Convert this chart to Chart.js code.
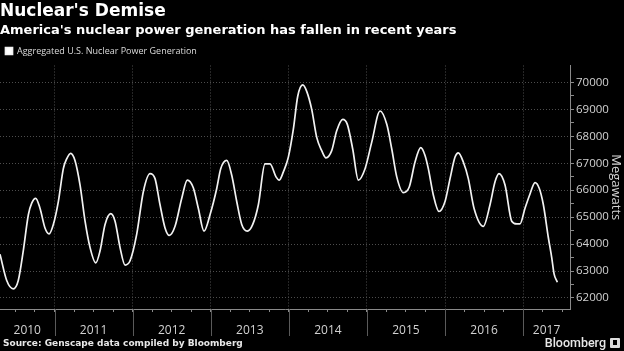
<!DOCTYPE html>
<html>
<head>
<meta charset="utf-8">
<script src="https://cdn.jsdelivr.net/npm/chart.js@4.4.1/dist/chart.umd.min.js"></script>
<style>
html,body{margin:0;padding:0;background:#000;}
#wrap{position:relative;width:624px;height:351px;background:#000;overflow:hidden;}
#c{position:absolute;left:0;top:0;}
#source{position:absolute;left:3px;top:338px;font:bold 9px "DejaVu Sans";line-height:11px;color:#e8e8e8;white-space:nowrap;}
#brand{position:absolute;right:4px;top:335px;font:500 12.5px Roboto;line-height:15px;color:#e8e8e8;white-space:nowrap;}
#brand .icon{display:inline-block;width:10px;height:10px;background:#ddd;border-radius:1px;margin-left:4px;vertical-align:-1px;position:relative;}
#brand .icon:after{content:"";position:absolute;left:3px;top:2px;width:4px;height:5px;background:#000;}
</style>
</head>
<body>
<div id="wrap">
<canvas id="c" width="624" height="351"></canvas>
<div id="source">Source: Genscape data compiled by Bloomberg</div>
<div id="brand">Bloomberg<span class="icon"></span></div>
</div>
<script>
// ---- Data ----
const titleText = "Nuclear's Demise";
const subtitleText = "America's nuclear power generation has fallen in recent years";
const seriesName = "Aggregated U.S. Nuclear Power Generation";
const axisTitle = "Megawatts";
const yearLabels = ["2010","2011","2012","2013","2014","2015","2016","2017"];
const yTickValues = [62000,63000,64000,65000,66000,67000,68000,69000,70000];

// decimal-year positions of the samples
const dates = [
2010.302,2010.388,2010.472,2010.536,2010.600,2010.665,2010.708,2010.759,2010.814,2010.878,
2010.930,2010.985,2011.049,2011.113,2011.156,2011.207,2011.262,2011.327,2011.391,2011.455,
2011.528,2011.583,2011.647,2011.720,2011.775,2011.839,2011.903,2011.967,2012.052,2012.137,
2012.223,2012.287,2012.351,2012.415,2012.470,2012.543,2012.629,2012.700,2012.777,2012.841,
2012.914,2012.991,2013.077,2013.128,2013.205,2013.269,2013.333,2013.397,2013.469,2013.538,
2013.610,2013.695,2013.759,2013.836,2013.878,2013.930,2013.994,2014.058,2014.114,2014.178,
2014.229,2014.293,2014.357,2014.421,2014.476,2014.549,2014.613,2014.690,2014.749,2014.818,
2014.890,2014.976,2015.061,2015.168,2015.254,2015.318,2015.382,2015.466,2015.543,2015.616,
2015.689,2015.744,2015.786,2015.850,2015.923,2016.000,2016.064,2016.128,2016.170,2016.234,
2016.298,2016.371,2016.490,2016.576,2016.640,2016.691,2016.768,2016.854,2016.918,2016.960,
2017.024,2017.088,2017.152,2017.207,2017.259,2017.323,2017.366,2017.396,2017.438
];
// megawatts
const generation = [
63626,62650,62340,62650,63750,65090,65520,65700,65330,64600,
64380,64730,65580,66800,67165,67370,67105,66190,64850,63870,
63300,63750,64730,65130,64850,63870,63220,63380,64360,65945,
66615,66430,65460,64600,64320,64660,65700,66375,66090,65330,
64480,65090,66065,66800,67105,66555,65580,64730,64480,64730,
65460,66980,66980,66495,66375,66680,67230,68265,69490,69910,
69670,69000,67960,67470,67200,67470,68205,68630,68445,67530,
66375,66800,67775,68940,68445,67530,66495,65910,66130,67045,
67580,67290,66800,65825,65210,65580,66430,67230,67385,67045,
66430,65330,64660,65460,66310,66615,66190,64850,64750,64750,
65330,65860,66285,66065,65460,64235,63500,62895,62585
];

// ---- Axis ranges ----
const X_MIN = 2010.302, X_MAX = 2017.6;
const Y_MIN = 61590, Y_MAX = 70630;

const labelPos = yearLabels.map(l => {
  const y = +l;
  return (Math.max(y, X_MIN) + Math.min(y + 1, X_MAX)) / 2;
});
const near = (a, b) => Math.abs(a - b) < 1e-6;
const isYearBoundary = v => near(v, Math.round(v));
const isExtraLabel = v => labelPos.some(p => near(p, v)) && !near(v * 4, Math.round(v * 4));

const GRID = '#4d4d4d';
const AXIS = '#8a8a8a';
const TEXT = '#d2d2d2';

const yearSeparators = {
  id: 'yearSeparators',
  afterDraw(chart) {
    const x = chart.scales.x, ca = chart.chartArea, ctx = chart.ctx;
    ctx.save();
    ctx.strokeStyle = '#5a5a5a';
    ctx.lineWidth = 1;
    for (let yr = Math.ceil(X_MIN); yr <= Math.floor(X_MAX); yr++) {
      const px = Math.round(x.getPixelForValue(yr)) + 0.5;
      ctx.beginPath();
      ctx.moveTo(px, ca.bottom);
      ctx.lineTo(px, ca.bottom + 27);
      ctx.stroke();
    }
    ctx.restore();
  }
};

new Chart(document.getElementById('c'), {
  type: 'line',
  data: {
    datasets: [{
      label: seriesName,
      data: dates.map((d, i) => ({ x: d, y: generation[i] })),
      borderColor: '#f2f2f2',
      backgroundColor: '#ffffff',
      borderWidth: 1.7,
      pointRadius: 0,
      cubicInterpolationMode: 'monotone',
      fill: false
    }]
  },
  options: {
    responsive: false,
    animation: false,
    devicePixelRatio: 1,
    layout: { padding: { left: 0, right: 0, top: 0, bottom: 16 } },
    plugins: {
      title: {
        display: true, text: titleText, align: 'start', color: '#ffffff',
        font: { family: 'DejaVu Sans', size: 17, weight: 'bold' },
        padding: { top: 1, bottom: 1 }
      },
      subtitle: {
        display: true, text: subtitleText, align: 'start', color: '#ffffff',
        font: { family: 'DejaVu Sans', size: 13, weight: 'bold' },
        padding: { top: 0, bottom: 3 }
      },
      legend: {
        display: true, align: 'start',
        labels: {
          boxWidth: 7, boxHeight: 7, padding: 5.5, color: '#dcdcdc',
          font: { family: 'Open Sans', size: 9 }
        }
      },
      tooltip: { enabled: false }
    },
    scales: {
      x: {
        type: 'linear', position: 'bottom', min: X_MIN, max: X_MAX,
        afterBuildTicks: s => {
          const t = [];
          for (let i = Math.ceil(X_MIN * 4); i <= Math.floor(X_MAX * 4); i++) t.push({ value: i / 4 });
          labelPos.forEach(p => { if (!t.some(k => near(k.value, p))) t.push({ value: p }); });
          t.sort((a, b) => a.value - b.value);
          s.ticks = t;
        },
        afterFit: s => { s.height = 26; },
        ticks: {
          autoSkip: false, maxRotation: 0, minRotation: 0, padding: 11, color: TEXT,
          font: { family: 'Open Sans', size: 12 },
          callback: v => { const i = labelPos.findIndex(p => near(p, v)); return i >= 0 ? yearLabels[i] : ''; }
        },
        grid: {
          drawOnChartArea: true, drawTicks: true, tickLength: 3,
          color: c => (c.tick && isYearBoundary(c.tick.value)) ? GRID : 'rgba(0,0,0,0)',
          tickColor: c => (c.tick && isExtraLabel(c.tick.value)) ? 'rgba(0,0,0,0)' : AXIS,
          lineWidth: 1
        },
        border: { display: true, color: AXIS, width: 1, dash: [1, 2] }
      },
      y: {
        type: 'linear', position: 'right', min: Y_MIN, max: Y_MAX,
        afterBuildTicks: s => {
          const t = [];
          for (let i = 0; i < yTickValues.length; i++) {
            t.push({ value: yTickValues[i] });
            if (i < yTickValues.length - 1) t.push({ value: (yTickValues[i] + yTickValues[i + 1]) / 2 });
          }
          s.ticks = t;
        },
        afterFit: s => { s.width = 54; },
        ticks: {
          autoSkip: false, padding: 2, color: TEXT,
          font: { family: 'Open Sans', size: 11.5 },
          callback: v => (yTickValues.includes(v) ? String(v) : '')
        },
        grid: {
          drawOnChartArea: true, drawTicks: true, tickLength: 4,
          color: c => (c.tick && yTickValues.includes(c.tick.value)) ? GRID : 'rgba(0,0,0,0)',
          tickColor: AXIS, lineWidth: 1
        },
        border: { display: true, color: AXIS, width: 1, dash: [1, 2] },
        title: {
          display: true, text: axisTitle, color: TEXT,
          font: { family: 'Open Sans', size: 13 }, padding: { top: 0, bottom: 3 }
        }
      }
    }
  },
  plugins: [yearSeparators]
});
</script>
</body>
</html>
